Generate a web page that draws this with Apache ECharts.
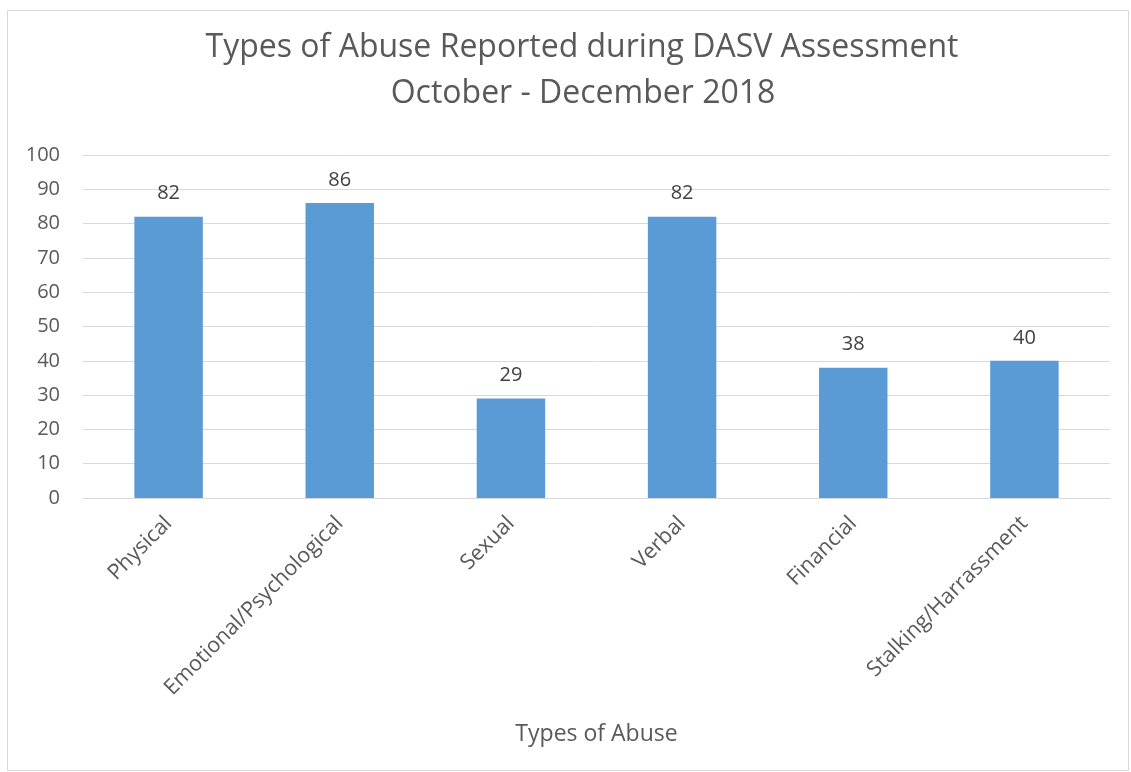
<!DOCTYPE html>
<html><head><meta charset="utf-8">
<script src="https://cdn.jsdelivr.net/npm/echarts@6/dist/echarts.min.js"></script>
<style>html,body{margin:0;padding:0;background:#fff}#c{width:1131px;height:772px}</style>
</head><body><div id="c"></div>
<script>
const categories = ['Physical','Emotional/Psychological','Sexual','Verbal','Financial','Stalking/Harrassment'];
const values = [82, 86, 29, 82, 38, 40];
const titleLines = ['Types of Abuse Reported during DASV Assessment','October - December 2018'];
const xAxisName = 'Types of Abuse';
const FONT = 'Open Sans';
const titleStyle = {fontFamily:FONT,fontSize:32,fontWeight:'normal',color:'#595959'};
const chart = echarts.init(document.getElementById('c'), null, {renderer:'canvas'});
chart.setOption({
  backgroundColor:'#fff',
  animation:false,
  graphic:[{type:'rect',shape:{x:7.5,y:10.5,width:1121,height:760},style:{fill:'none',stroke:'#d9d9d9',lineWidth:1},silent:true}],
  title:[
    {text:titleLines[0],left:577,textAlign:'center',top:27,textStyle:titleStyle},
    {text:titleLines[1],left:578,textAlign:'center',top:73,textStyle:titleStyle}
  ],
  grid:{left:83,right:21,top:155,bottom:274,containLabel:false},
  xAxis:{type:'category',data:categories,
    name:xAxisName,nameLocation:'middle',nameGap:225,
    nameTextStyle:{fontFamily:FONT,fontSize:23,color:'#595959'},
    axisLine:{lineStyle:{color:'#d9d9d9',width:1}},axisTick:{show:false},
    axisLabel:{rotate:45,interval:0,margin:22,fontFamily:FONT,fontSize:21.5,color:'#595959'}},
  yAxis:{type:'value',min:0,max:100,interval:10,
    axisLine:{show:false},axisTick:{show:false},
    splitLine:{lineStyle:{color:'#d9d9d9',width:1}},
    axisLabel:{margin:23,fontFamily:FONT,fontSize:20,color:'#595959'}},
  series:[{type:'bar',data:values,barWidth:'40%',
    itemStyle:{color:'#5b9bd5'},
    label:{show:true,position:'top',distance:13,fontFamily:FONT,fontSize:20,color:'#404040'}}]
});
</script></body></html>
